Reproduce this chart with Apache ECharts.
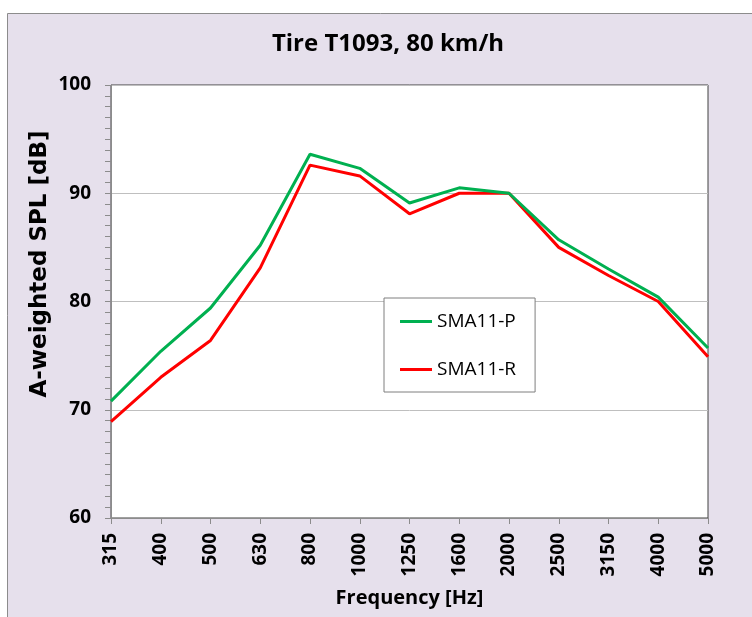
<!DOCTYPE html>
<html>
<head>
<meta charset="utf-8">
<script src="https://cdn.jsdelivr.net/npm/echarts@6/dist/echarts.min.js"></script>
<style>
  html, body { margin: 0; padding: 0; background: #fff; }
  #chart { width: 752px; height: 617px; }
</style>
</head>
<body>
<div id="chart"></div>
<script>
// frequency bands (Hz)
const freqs = ['315', '400', '500', '630', '800', '1000', '1250', '1600', '2000', '2500', '3150', '4000', '5000'];
// A-weighted SPL [dB]
const smaP = [70.8, 75.4, 79.4, 85.2, 93.6, 92.3, 89.1, 90.5, 90.0, 85.7, 83.0, 80.4, 75.7];
const smaR = [68.9, 73.0, 76.4, 83.1, 92.6, 91.6, 88.1, 90.0, 90.0, 85.0, 82.4, 80.0, 74.9];

const FONT = '"Open Sans", sans-serif';

const chart = echarts.init(document.getElementById('chart'));

chart.setOption({
  animation: false,
  backgroundColor: '#fff',
  graphic: [{
    type: 'rect',
    z: -10,
    shape: { x: 7.5, y: 13.5, width: 760, height: 620 },
    style: { fill: '#E6E0EC', stroke: '#8c8c8c', lineWidth: 1 }
  }, {
    // y axis title, sits a bit above the plot middle like the original
    type: 'text',
    x: 40,
    y: 264,
    rotation: Math.PI / 2,
    style: {
      text: 'A-weighted SPL [dB]',
      fontFamily: '"DejaVu Sans", sans-serif',
      fontWeight: 'bold',
      fontSize: 23,
      fill: '#000',
      align: 'center',
      verticalAlign: 'middle'
    }
  }],
  title: {
    text: 'Tire T1093, 80 km/h',
    left: 383,
    top: 27,
    textAlign: 'center',
    textStyle: { fontFamily: FONT, fontWeight: 'bold', fontSize: 24, color: '#000' }
  },
  grid: {
    left: 111,
    top: 85,
    right: 44,
    bottom: 99,
    outerBoundsMode: 'none',
    show: true,
    backgroundColor: '#fff',
    borderColor: '#404040',
    borderWidth: 1
  },
  legend: {
    left: 384,
    top: 298,
    orient: 'vertical',
    backgroundColor: '#fff',
    borderColor: '#7f7f7f',
    borderWidth: 1,
    borderRadius: 0,
    padding: [14, 19, 13, 16],
    itemGap: 29,
    itemWidth: 32,
    itemHeight: 3,
    icon: 'rect',
    textStyle: { fontFamily: FONT, fontSize: 19, color: '#000' },
    data: ['SMA11-P', 'SMA11-R']
  },
  xAxis: {
    type: 'category',
    data: freqs,
    boundaryGap: false,
    name: 'Frequency [Hz]',
    nameLocation: 'middle',
    nameGap: 70,
    nameTextStyle: { fontFamily: FONT, fontWeight: 'bold', fontSize: 20, color: '#000' },
    axisLine: { lineStyle: { color: '#8c8c8c', width: 1 } },
    axisTick: { show: true, length: 6, alignWithLabel: true, lineStyle: { color: '#8c8c8c' } },
    axisLabel: { rotate: 90, margin: 15, fontFamily: FONT, fontWeight: 'bold', fontSize: 19, color: '#000' },
    splitLine: { show: false }
  },
  yAxis: {
    type: 'value',
    min: 60,
    max: 100,
    interval: 10,
    axisLine: { show: true, lineStyle: { color: '#8c8c8c', width: 1 } },
    axisTick: { show: true, length: 6, lineStyle: { color: '#8c8c8c' } },
    minorTick: { show: true, splitNumber: 10, length: 6, lineStyle: { color: '#8c8c8c' } },
    axisLabel: { margin: 20, fontFamily: FONT, fontWeight: 'bold', fontSize: 19, color: '#000' },
    splitLine: { show: true, lineStyle: { color: '#bfbfbf', width: 1 } }
  },
  series: [
    {
      name: 'SMA11-P',
      type: 'line',
      data: smaP,
      symbol: 'none',
      color: '#00B050',
      lineStyle: { color: '#00B050', width: 3 },
      z: 3
    },
    {
      name: 'SMA11-R',
      type: 'line',
      data: smaR,
      symbol: 'none',
      color: '#FF0000',
      lineStyle: { color: '#FF0000', width: 3 },
      z: 2
    }
  ]
});
</script>
</body>
</html>
